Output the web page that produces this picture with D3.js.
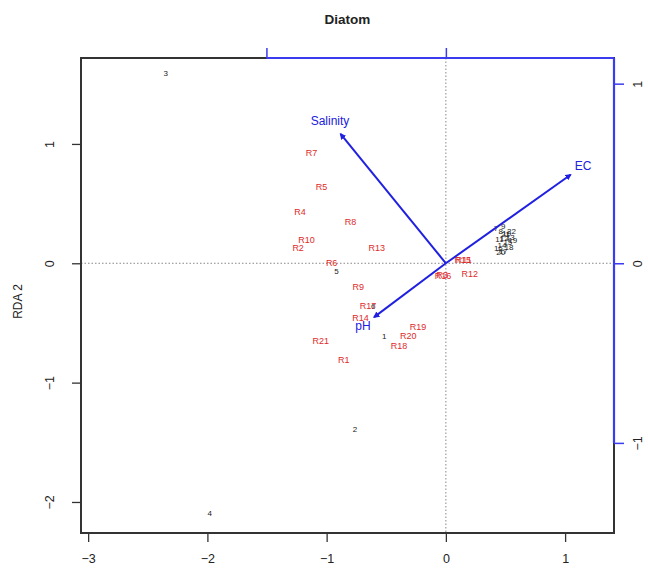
<!DOCTYPE html>
<html>
<head>
<meta charset="utf-8">
<script src="https://cdnjs.cloudflare.com/ajax/libs/d3/7.8.5/d3.min.js"></script>
<style>
  body { margin: 0; background: #fff; }
  svg { font-family: "Liberation Sans", Arial, sans-serif; }
</style>
</head>
<body>
<div id="chart"></div>
<script>
// site scores (red labels)
var siteNames = ['R1','R2','R3','R4','R5','R6','R7','R8','R9','R10','R11','R12','R13','R14','R15','R16','R17','R18','R19','R20','R21'];
var siteX = [-0.856,-1.239,-0.03,-1.223,-1.043,-0.958,-1.127,-0.799,-0.735,-1.168,0.15,0.20,-0.58,-0.715,0.141,-0.023,-0.652,-0.392,-0.233,-0.316,-1.05];
var siteY = [-0.81,0.13,-0.10,0.43,0.64,0.0,0.92,0.35,-0.20,0.195,0.03,-0.09,0.13,-0.46,0.03,-0.11,-0.36,-0.695,-0.53,-0.61,-0.65];

// species scores (black labels)
var specNames = ['1','2','3','4','5','6','7','8','9','10','11','12','13','14','15','16','17','18','19','20','21','22'];
var specX = [-0.517,-0.763,-2.35,-1.98,-0.917,-0.61,0.42,0.46,0.48,0.51,0.45,0.49,0.54,0.47,0.52,0.44,0.48,0.53,0.56,0.46,0.50,0.55];
var specY = [-0.61,-1.39,1.59,-2.10,-0.07,-0.365,0.29,0.27,0.31,0.25,0.20,0.21,0.22,0.15,0.17,0.12,0.10,0.13,0.19,0.09,0.24,0.27];

// environmental vectors (blue arrows)
var envNames = ['Salinity','EC','pH'];
var envX = [-0.587,0.695,-0.40];
var envY = [0.72,0.493,-0.30];

var xTicks = [-3,-2,-1,0,1];
var yTicks = [-2,-1,0,1];
var arrowTicksTop = [-1,0];
var arrowTicksRight = [-1,0,1];
var arrowMul = 1.505;

var W = 648, H = 570;
var m = {top: 58, right: 34, bottom: 37, left: 81};

var svg = d3.select('#chart').append('svg')
    .attr('width', W)
    .attr('height', H);

var x = d3.scaleLinear().domain([-3.06, 1.41]).range([m.left, W - m.right]);
var y = d3.scaleLinear().domain([-2.26, 1.72]).range([H - m.bottom, m.top]);
// arrow scales share the plot region but with a wider unit
var xa = d3.scaleLinear().domain(x.domain().map(function(d) { return d / arrowMul; })).range(x.range());
var ya = d3.scaleLinear().domain(y.domain().map(function(d) { return d / arrowMul; })).range(y.range());

var x0 = m.left, x1 = W - m.right, y0 = m.top, y1 = H - m.bottom;
var minus = function(d) { return d < 0 ? '\u2212' + Math.abs(d) : d; };

// dotted zero lines
svg.append('line')
    .attr('x1', x0).attr('x2', x1).attr('y1', y(0)).attr('y2', y(0))
    .attr('stroke', '#888').attr('stroke-width', 1).attr('stroke-dasharray', '1.5,2');
svg.append('line')
    .attr('x1', x(0)).attr('x2', x(0)).attr('y1', y0).attr('y2', y1)
    .attr('stroke', '#888').attr('stroke-width', 1).attr('stroke-dasharray', '1.5,2');

// frame
svg.append('rect')
    .attr('x', x0).attr('y', y0).attr('width', x1 - x0).attr('height', y1 - y0)
    .attr('fill', 'none').attr('stroke', '#333').attr('stroke-width', 2);

// bottom axis
var gx = svg.append('g')
    .attr('transform', 'translate(0,' + y1 + ')')
    .call(d3.axisBottom(x).tickValues(xTicks).tickSize(9).tickSizeOuter(0).tickFormat(minus));
gx.select('.domain').remove();
gx.selectAll('line').attr('stroke', '#333').attr('stroke-width', 1.3);
gx.selectAll('text').attr('font-size', 12.5).attr('fill', '#222').attr('dy', '1.45em');

// left axis
var gy = svg.append('g')
    .attr('transform', 'translate(' + x0 + ',0)')
    .call(d3.axisLeft(y).tickValues(yTicks).tickSize(9).tickSizeOuter(0).tickFormat(minus));
gy.select('.domain').remove();
gy.selectAll('line').attr('stroke', '#333').attr('stroke-width', 1.3);
gy.selectAll('text')
    .attr('font-size', 12.5).attr('fill', '#222')
    .attr('x', 0).attr('dy', 0)
    .attr('text-anchor', 'middle')
    .attr('transform', 'translate(-27,0) rotate(-90)');

// top blue axis
var gt = svg.append('g')
    .attr('transform', 'translate(0,' + y0 + ')')
    .call(d3.axisTop(xa).tickValues(arrowTicksTop).tickSize(10).tickSizeOuter(0).tickFormat(''));
gt.select('.domain').remove();
gt.selectAll('line').attr('stroke', '#3b3bf0').attr('stroke-width', 1.5);
gt.append('line')
    .attr('x1', xa(arrowTicksTop[0])).attr('x2', x1).attr('y1', 0).attr('y2', 0)
    .attr('stroke', '#3b3bf0').attr('stroke-width', 2.2);

// right blue axis
var gr = svg.append('g')
    .attr('transform', 'translate(' + x1 + ',0)')
    .call(d3.axisRight(ya).tickValues(arrowTicksRight).tickSize(10).tickSizeOuter(0).tickFormat(minus));
gr.select('.domain').remove();
gr.selectAll('line').attr('stroke', '#3b3bf0').attr('stroke-width', 1.5);
gr.selectAll('text')
    .attr('font-size', 12.5).attr('fill', '#222')
    .attr('x', 0).attr('dy', 0)
    .attr('text-anchor', 'middle')
    .attr('transform', 'translate(28,0) rotate(-90)');
gr.append('line')
    .attr('x1', 0).attr('x2', 0).attr('y1', y0).attr('y2', ya(arrowTicksRight[0]))
    .attr('stroke', '#3b3bf0').attr('stroke-width', 2.2);

// species labels
var spec = specNames.map(function(n, i) { return {name: n, x: specX[i], y: specY[i]}; });
svg.append('g').selectAll('text')
    .data(spec)
    .enter()
    .append('text')
    .attr('x', function(d) { return x(d.x); })
    .attr('y', function(d) { return y(d.y); })
    .attr('text-anchor', 'middle')
    .attr('dominant-baseline', 'central')
    .attr('font-size', 8)
    .attr('fill', '#222')
    .text(function(d) { return d.name; });

// site labels
var sites = siteNames.map(function(n, i) { return {name: n, x: siteX[i], y: siteY[i]}; });
svg.append('g').selectAll('text')
    .data(sites)
    .enter()
    .append('text')
    .attr('x', function(d) { return x(d.x); })
    .attr('y', function(d) { return y(d.y); })
    .attr('text-anchor', 'middle')
    .attr('dominant-baseline', 'central')
    .attr('font-size', 9)
    .attr('fill', '#e02a2a')
    .text(function(d) { return d.name; });

// arrows
svg.append('defs').append('marker')
    .attr('id', 'head')
    .attr('viewBox', '0 0 10 10')
    .attr('refX', 8).attr('refY', 5)
    .attr('markerWidth', 3.2).attr('markerHeight', 3.2)
    .attr('orient', 'auto')
    .append('path')
    .attr('d', 'M0,0L10,5L0,10z')
    .attr('fill', '#2020e0');

var env = envNames.map(function(n, i) { return {name: n, x: envX[i], y: envY[i]}; });
svg.append('g').selectAll('line')
    .data(env)
    .enter()
    .append('line')
    .attr('x1', xa(0)).attr('y1', ya(0))
    .attr('x2', function(d) { return xa(d.x); })
    .attr('y2', function(d) { return ya(d.y); })
    .attr('stroke', '#2020e0')
    .attr('stroke-width', 2)
    .attr('marker-end', 'url(#head)');

svg.append('g').selectAll('text')
    .data(env)
    .enter()
    .append('text')
    .attr('x', function(d) { return xa(d.x * 1.1); })
    .attr('y', function(d) { return ya(d.y * 1.1); })
    .attr('dx', function(d) { return d.name === 'pH' ? -4 : 0; })
    .attr('dy', function(d) { return d.name === 'pH' ? 3 : 0; })
    .attr('text-anchor', 'middle')
    .attr('dominant-baseline', 'central')
    .attr('font-size', 12)
    .attr('fill', '#2020e0')
    .text(function(d) { return d.name; });

// title and axis title
svg.append('text')
    .attr('x', (x0 + x1) / 2).attr('y', 24)
    .attr('text-anchor', 'middle')
    .attr('font-size', 13.5).attr('font-weight', 'bold').attr('fill', '#222')
    .text('Diatom');

svg.append('text')
    .attr('transform', 'translate(22,' + ((y0 + y1) / 2 + 6) + ') rotate(-90)')
    .attr('text-anchor', 'middle')
    .attr('font-size', 12).attr('fill', '#222')
    .text('RDA 2');
</script>
</body>
</html>
